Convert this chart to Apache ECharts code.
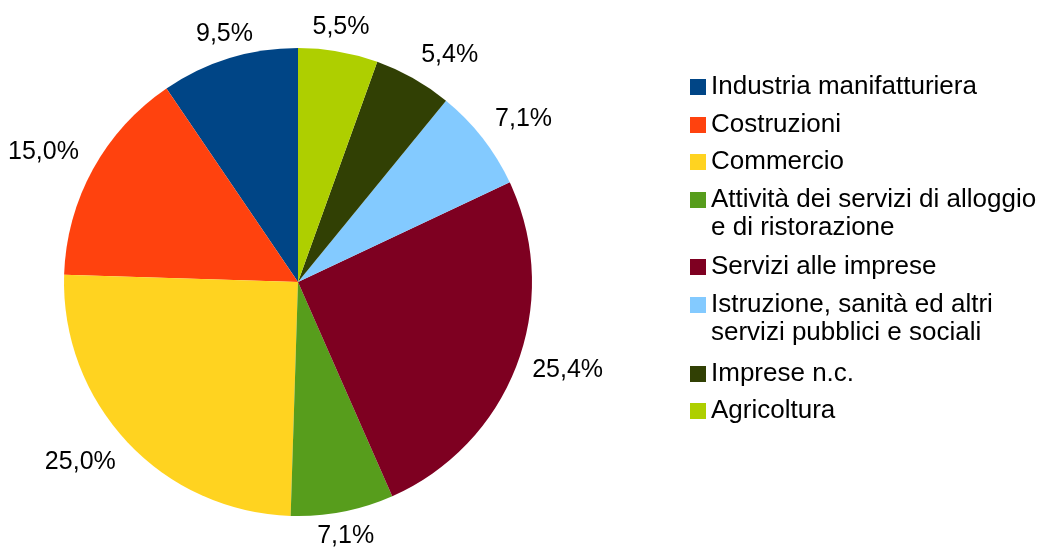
<!DOCTYPE html>
<html>
<head>
<meta charset="utf-8">
<script src="https://cdn.jsdelivr.net/npm/echarts@6/dist/echarts.min.js"></script>
<style>
  html, body { margin: 0; padding: 0; background: #fff; }
  #chart { width: 1048px; height: 548px; }
</style>
</head>
<body>
<div id="chart"></div>
<script>
// settori in ordine antiorario a partire dalle ore 12
const categories = [
  'Industria manifatturiera',
  'Costruzioni',
  'Commercio',
  'Attività dei servizi di alloggio e di ristorazione',
  'Servizi alle imprese',
  'Istruzione, sanità ed altri servizi pubblici e sociali',
  'Imprese n.c.',
  'Agricoltura'
]
const shares = [9.5, 15.0, 25.0, 7.1, 25.4, 7.1, 5.4, 5.5]
// testo legenda con a capo come nell'originale
const legendLabels = [
  'Industria manifatturiera',
  'Costruzioni',
  'Commercio',
  'Attività dei servizi di alloggio\ne di ristorazione',
  'Servizi alle imprese',
  'Istruzione, sanità ed altri\nservizi pubblici e sociali',
  'Imprese n.c.',
  'Agricoltura'
]
const colors = ['#004586', '#ff420e', '#ffd320', '#579d1c', '#7e0021', '#83caff', '#314004', '#aecf00']

// impaginazione legenda: centro verticale del quadratino di ogni voce
const LEGEND_ROW_Y = [87, 125, 162, 200, 267, 305, 374, 411]
const LEGEND_LINE_H = 28

const FONT = 'Liberation Sans'
const LABEL_GAP = 16

const chart = echarts.init(document.getElementById('chart'), null, { renderer: 'canvas' })

const fmtPct = (v) => v.toFixed(1).replace('.', ',') + '%'

// la legenda centra il testo sul quadratino: con una riga vuota in testa
// la prima riga del testo a capo resta allineata al quadratino
const isWrapped = (i) => legendLabels[i].includes('\n')
const legendText = (name) => {
  const i = categories.indexOf(name)
  return isWrapped(i) ? '\n' + legendLabels[i] : legendLabels[i]
}

// una legenda per voce, così le righe a capo non spostano le altre
const legends = categories.map((name, i) => ({
  orient: 'vertical',
  left: 690,
  top: LEGEND_ROW_Y[i] - LEGEND_LINE_H / 2 - (isWrapped(i) ? LEGEND_LINE_H : 0),
  padding: 0,
  itemWidth: 16,
  itemHeight: 16,
  icon: 'rect',
  textStyle: { fontFamily: FONT, fontSize: 26, lineHeight: LEGEND_LINE_H, color: '#000' },
  formatter: legendText,
  data: [name]
}))

// etichetta fuori dalla fetta, allineata come in LibreOffice (8 direzioni)
const placeLabel = (p) => {
  const data = chart.getModel().getSeriesByIndex(0).getData()
  const lay = data.getItemLayout(p.dataIndex)
  if (!lay) return {}
  const mid = (lay.startAngle + lay.endAngle) / 2
  const ux = Math.cos(mid)
  const uy = Math.sin(mid)
  const d = lay.r + LABEL_GAP
  return {
    x: lay.cx + ux * d,
    y: lay.cy + uy * d,
    align: ux > 0.383 ? 'left' : (ux < -0.383 ? 'right' : 'center'),
    verticalAlign: uy > 0.383 ? 'top' : (uy < -0.383 ? 'bottom' : 'middle')
  }
}

chart.setOption({
  animation: false,
  backgroundColor: '#fff',
  color: colors,
  legend: legends,
  series: [{
    type: 'pie',
    center: [298, 282],
    radius: 234,
    startAngle: 90,
    clockwise: false,
    avoidLabelOverlap: false,
    itemStyle: { borderWidth: 0 },
    label: {
      show: true,
      position: 'outside',
      fontFamily: FONT,
      fontSize: 25,
      lineHeight: 18,
      color: '#000',
      formatter: (p) => fmtPct(p.value)
    },
    labelLine: { show: false, length: 0, length2: 0 },
    labelLayout: placeLabel,
    emphasis: { disabled: true },
    data: categories.map((name, i) => ({ name, value: shares[i] }))
  }]
})
</script>
</body>
</html>
